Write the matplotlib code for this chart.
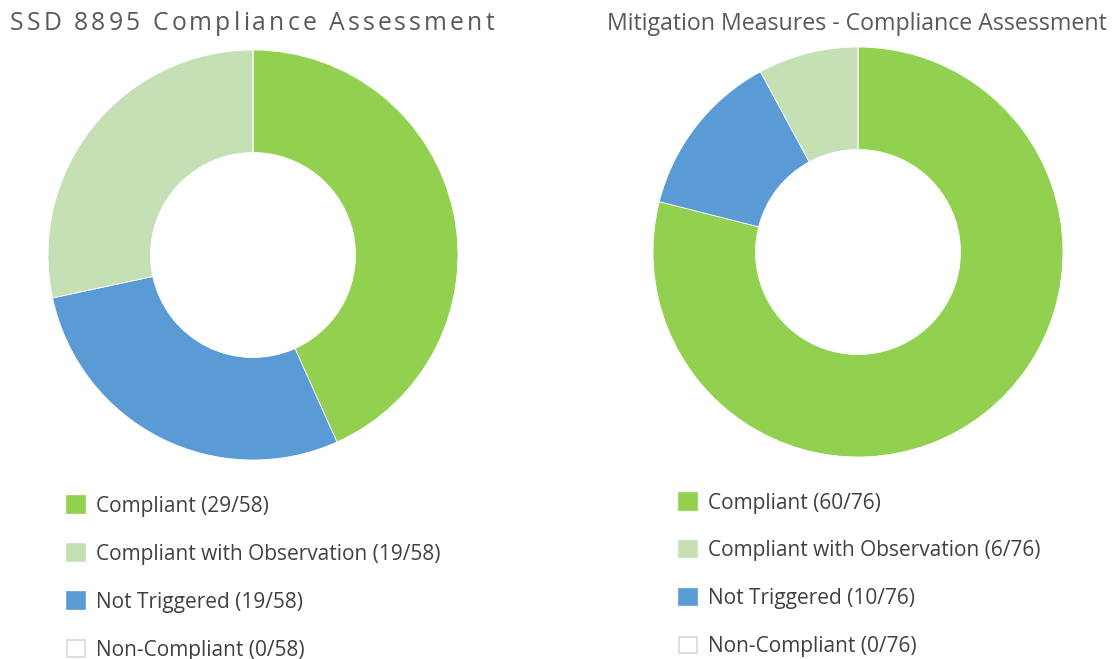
import matplotlib
matplotlib.use('Agg')
import matplotlib.pyplot as plt
from matplotlib.patches import Patch
from matplotlib.font_manager import FontProperties, findfont, get_font

plt.rcParams['font.family'] = ['Open Sans', 'DejaVu Sans']

W, H = 1114, 659

# данные
labels = ['Compliant', 'Compliant with Observation', 'Not Triggered', 'Non-Compliant']
colors = ['#92D050', '#C5E0B4', '#5B9BD5', '#FFFFFF']
ssd_values = [29, 19, 19, 0]
ssd_total = 58
mm_values = [60, 6, 10, 0]
mm_total = 76

# порядок секторов по часовой стрелке от 12 часов
wedge_order = [0, 2, 1, 3]

title_color = '#595959'
text_color = '#404040'


def spaced_title(fig, x_px, y_px, s, size, spacing):
    """Заголовок с разрядкой между буквами"""
    font = get_font(findfont(FontProperties(family='Open Sans')))
    font.set_size(size, fig.dpi)
    cur = x_px
    for ch in s:
        fig.text(cur / W, 1 - y_px / H, ch, fontsize=size, color=title_color,
                 ha='left', va='center')
        g = font.load_char(ord(ch))
        cur += g.linearHoriAdvance / 65536 + spacing


def donut(ax, values, total, legend_x, legend_y):
    vals = [values[i] for i in wedge_order]
    cols = [colors[i] for i in wedge_order]
    ax.pie(vals, colors=cols, startangle=90, counterclock=False, radius=1,
           wedgeprops=dict(width=0.5, edgecolor='white', linewidth=0.6))
    ax.set_xlim(-1, 1)
    ax.set_ylim(-1, 1)
    ax.set_aspect('equal')
    ax.axis('off')

    handles = []
    for lab, col, v in zip(labels, colors, values):
        ec = '#D9D9D9' if col == '#FFFFFF' else col
        handles.append(Patch(facecolor=col, edgecolor=ec, linewidth=1.2,
                             label=f'{lab} ({v}/{total})'))
    fig.legend(handles=handles, loc='upper left',
               bbox_to_anchor=(legend_x / W, 1 - legend_y / H),
               frameon=False, fontsize=15, labelcolor=text_color,
               handlelength=0.85, handleheight=0.85, handletextpad=0.55,
               labelspacing=1.29, borderaxespad=0, borderpad=0)


fig = plt.figure(figsize=(W / 100, H / 100), dpi=100)

ax1 = fig.add_axes([48 / W, (H - 460) / H, 410 / W, 410 / H])
donut(ax1, ssd_values, ssd_total, 67, 496)

ax2 = fig.add_axes([653 / W, (H - 457) / H, 410 / W, 410 / H])
donut(ax2, mm_values, mm_total, 679, 492.5)

spaced_title(fig, 10, 24, 'SSD 8895 Compliance Assessment', 17.8, 3.1)
fig.text(607 / W, 1 - 24 / H, 'Mitigation Measures - Compliance Assessment',
         fontsize=16.7, color=title_color, ha='left', va='center')

fig.savefig('out.png', dpi=100)
